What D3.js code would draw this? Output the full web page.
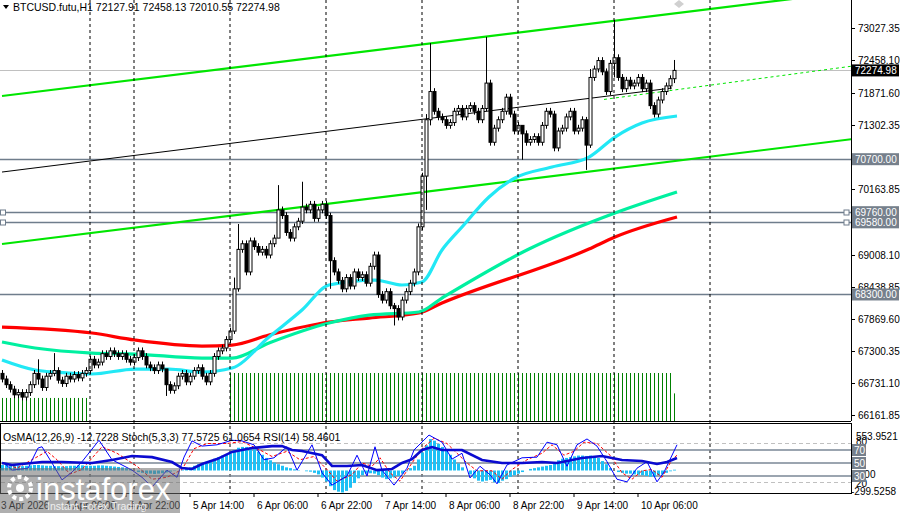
<!DOCTYPE html>
<html>
<head>
<meta charset="utf-8">
<script src="https://cdn.jsdelivr.net/npm/d3@7"></script>
<style>
  body { margin: 0; background: #fff; }
  svg text { font-family: "Liberation Sans", Arial, sans-serif; }
</style>
</head>
<body>
<svg id="chart" width="900" height="513"></svg>
<script>
// hourly closes, one per bar
const closes = [66800,66700,66620,66520,66560,66480,66560,66700,66900,66800,66650,66850,66900,66950,66780,66720,66850,66800,66880,66820,66900,66950,
  67150,67050,67100,67250,67200,67300,67250,67200,67250,67150,67100,
  67180,67300,67200,67050,67000,66950,67050,66980,66700,66600,
  66680,66850,66900,66750,
  66850,66950,67000,66850,66750,66900,67200,67300,67350,67500,
  67650,68400,69100,69200,68700,69250,
  69150,69050,69100,69000,69200,69300,69800,69700,69400,
  69300,69500,69600,69850,69800,
  69900,69650,69800,69900,69700,68900,68700,68550,68400,68600,
  68450,68700,68600,68650,68500,68800,
  69000,68300,68200,68350,68100,68050,
  67900,68200,68350,68500,68700,
  69500,70400,71400,71900,71550,71450,71400,71300,
  71350,71550,71600,71450,71600,71650,71550,
  71400,71600,72050,71000,71250,71400,71550,71800,
  71500,71200,71300,71150,71000,71050,
  71100,71000,71300,71550,71500,70900,71200,
  71250,71450,71550,71200,71250,71400,70950,72150,
  72300,72450,72250,71900,72400,72500,
  72150,71950,72100,72000,72050,72150,71950,72050,
  71650,71500,71750,71900,72000,72128,72275];
const firstOpen = 66900;
// bars with long wicks: [bar, high, low]
const spikes = [[9,67150,66700],[13,67260,66850],[41,66950,66500],[58,68600,67600],[59,69550,68350],
  [69,70240,69300],[75,70300,69550],[82,69750,68400],[98,68150,67750],[106,71500,69800],[107,72760,71300],
  [121,72870,71550],[130,71300,70690],[146,71450,70510],[147,72300,70900],[153,73170,72150],[168,72460,72050]];

// moving averages: [bar, value]
const maFast = [[-0.5,67137],[7.75,66960],[16.25,66906],[22,66889],[32.75,66977],[41.25,66977],[49.5,66924],[57,66995],
  [66.25,67545],[74.5,68024],[81.25,68468],[92.75,68556],[99.5,68468],[104.5,68521],[109.5,69089],[114.5,69497],
  [121.25,70029],[127.75,70366],[137,70561],[146.25,70738],[152.75,71093],[159.5,71342],[168.25,71466]];
const maMid = [[-0.5,67456],[7.75,67350],[22,67261],[32.75,67243],[49.5,67172],[57,67172],[66.25,67439],[81.25,67793],
  [91.25,67935],[103.75,67989],[109.5,68237],[131.25,69106],[152.75,69745],[168.25,70117]];
const maSlow = [[-0.5,67722],[22,67616],[32.75,67492],[49.5,67385],[57,67403],[66.25,67581],[81.25,67811],
  [91.25,67882],[103.75,67971],[109.5,68148],[146.25,69106],[152.75,69319],[168.25,69674]];

// trend channel lines: [bar, price]
const channelTop = [[-0.5,71821],[212.25,73675]];
const channelBottom = [[-0.5,69195],[212.25,71058]];
const midLine = [[-0.5,70472],[167,71963]];
const midLineExt = [[150,71760],[212.25,72353]];

const levels = [70700, 69760, 69580, 68300];
const lastPrice = 72274.98;
const priceTicks = [73027.35,72458.10,71871.60,71302.35,70163.85,69008.10,68438.85,67869.60,67300.35,66731.10,66161.85];

// green signal bars at the bottom of the main pane
const signalBars = [{from:0,to:21,val:0.96},{from:57,to:167,val:2},{from:168,to:168,val:1.15}];

// time axis
const timeLabels = ["3 Apr 2026","4 Apr 06:00","4 Apr 22:00","5 Apr 14:00","6 Apr 06:00","6 Apr 22:00","7 Apr 14:00","8 Apr 06:00","8 Apr 22:00","9 Apr 14:00","10 Apr 06:00"];
const timeLabelBars = [-1,15,31,47,63,79,95,111,127,143,159];
const daySeparators = [22,33,57,81,105,129,153,177];

// indicators
const osma = [70,70,65,60,60,55,60,65,70,70,65,60,60,55,55,50,55,60,60,65,65,60,
  60,60,65,65,60,55,50,45,40,30,20,
  0,-20,-30,-40,-40,-45,-40,-35,-25,-15,
  -5,0,10,20,
  40,60,80,90,110,130,150,170,190,200,
  220,260,290,300,300,295,
  270,240,200,160,130,100,80,60,40,
  30,15,5,0,-10,
  -15,-30,-50,-90,-140,-200,-250,-270,-280,-260,
  -220,-160,-100,-60,-40,-35,
  -40,-60,-90,-110,-100,-90,
  -70,-40,-10,30,60,
  140,230,320,400,380,340,300,260,
  200,140,90,40,0,-50,-100,
  -130,-140,-130,-120,-150,-160,-130,-110,
  -80,-60,-40,-20,0,20,
  30,40,50,60,70,100,130,
  150,160,170,180,190,190,185,190,
  180,160,120,80,30,0,
  -20,-30,-40,-40,-50,-55,-60,-70,
  -80,-80,-60,-50,-30,-10,10];
// [bar, value]
const rsi = [[-0.5,50],[2,47],[9.5,51.5],[14.5,51.5],[22,50],[27,54.6],[32,60.8],[37,59],[42,51.5],[44.5,42.3],[47,40.8],
  [49.5,48.5],[53.25,56],[57,67],[62,73],[67,76],[69.5,76],[72,70],[74.5,68.5],[79.5,62],[82,45.4],[85.75,45.4],
  [89.5,47],[93.25,39],[97,40.8],[99.5,50],[102,56],[104.5,70],[107,74.6],[109.5,70],[114.5,70],[119.5,54.6],
  [124.5,50],[129.5,50],[134.5,51.5],[138.25,50],[144.5,57.7],[149.5,60.8],[154.5,54.6],[159.5,53],[163.25,48.5],
  [165.75,51.5],[168.25,57.7]];
const stochMain = [[0,50],[2,39],[6,42],[8.5,73],[9.5,75],[12,50],[14.5,24],[17,36],[19.5,52],[23.75,85],[27,55],
  [32,39],[34.5,28],[37,13],[40.75,39],[43.25,28],[45,59],[47,84],[49.5,76],[53.25,78],[57,85],[59.5,84],[62.5,78],
  [65,55],[67.5,58],[70.75,75],[73.25,39],[77,78],[79.5,35],[82,16],[85.75,30],[88.25,62],[90.75,30],[92.75,75],
  [94.5,39],[97.5,16],[100.75,42],[102.5,70],[106.25,93],[109.5,82],[112,56],[114.5,65],[116.5,27],[119,45],
  [121.5,32],[123.25,18],[125.75,47],[129.5,58],[133.25,59],[135.75,82],[138.25,78],[140.75,45],[143.25,78],
  [145.75,87],[148.25,76],[150.75,52],[153.25,25],[155.75,21],[158.25,42],[160.75,52],[163.25,21],[165,36],[168.25,78]];
const stochSignal = [[0,50],[3.25,42],[7,55],[10.75,68],[13.25,55],[16.5,33],[19.5,40],[24.5,75],[28.25,65],[33.25,45],
  [37,25],[40.75,28],[44.5,40],[47.5,72],[50.75,80],[55.75,80],[59.5,83],[64,70],[67,60],[70.75,68],[74,55],[77.5,60],
  [80.75,40],[83.25,22],[87,32],[89.5,50],[92,45],[94,58],[96.5,35],[99,22],[102,50],[104.5,72],[107.5,88],[110.75,80],
  [113.25,65],[115.75,50],[118.25,38],[122,38],[124.5,25],[127,40],[130.75,55],[134.5,65],[137,78],[140,62],[142.5,68],
  [145,82],[148.25,80],[151.5,62],[154.5,35],[157,25],[159.5,38],[162,40],[164.5,28],[167,55],[168.25,62]];

const svg = d3.select("#chart");
const W = 851;

const x = d3.scaleLinear().domain([0, 1]).range([4, 8]); // one bar = 4px
const y = d3.scaleLinear().domain([66161.85, 73027.35]).range([415, 28]);
const yInd = d3.scaleLinear().domain([0, 100]).range([495.5, 430.5]);   // RSI / Stoch
const yOsma = d3.scaleLinear().domain([-299.5258, 553.9521]).range([494, 427]);
const ySig = d3.scaleLinear().domain([0, 2]).range([421, 373]);

const main = svg.append("g");
main.append("defs").append("clipPath").attr("id", "mainClip")
  .append("rect").attr("x", 0).attr("y", 0).attr("width", W).attr("height", 421);
const plot = main.append("g").attr("clip-path", "url(#mainClip)");

// day separators
daySeparators.forEach(b => {
  svg.append("line").attr("x1", x(b) - 2).attr("x2", x(b) - 2).attr("y1", 0).attr("y2", 493)
    .attr("stroke", "#000").attr("stroke-dasharray", "3,3").attr("stroke-width", 1);
});

// horizontal levels
levels.forEach(v => {
  plot.append("line").attr("x1", 0).attr("x2", W).attr("y1", Math.round(y(v)) + 0.5).attr("y2", Math.round(y(v)) + 0.5)
    .attr("stroke", "#6f7d8c").attr("stroke-width", 1.3);
});
[69760, 69580].forEach(v => {
  plot.append("rect").attr("x", 0.5).attr("y", Math.round(y(v)) - 2).attr("width", 5).attr("height", 5)
    .attr("fill", "#fff").attr("stroke", "#6f7d8c");
  plot.append("rect").attr("x", W - 7).attr("y", Math.round(y(v)) - 2).attr("width", 5).attr("height", 5)
    .attr("fill", "#fff").attr("stroke", "#6f7d8c");
});
plot.append("line").attr("x1", 0).attr("x2", W).attr("y1", Math.round(y(lastPrice)) + 0.5).attr("y2", Math.round(y(lastPrice)) + 0.5)
  .attr("stroke", "#c0c0c0");

// signal bars
signalBars.forEach(s => {
  d3.range(s.from, s.to + 1).forEach(i => {
    plot.append("line").attr("x1", x(i) - 1.5).attr("x2", x(i) - 1.5).attr("y1", ySig(s.val)).attr("y2", 421)
      .attr("stroke", "#008000").attr("stroke-width", 1);
  });
});

const line = d3.line().x(d => x(d[0])).y(d => y(d[1]));
const smooth = d3.line().x(d => x(d[0])).y(d => y(d[1])).curve(d3.curveMonotoneX);

// channels
[channelTop, channelBottom].forEach(c => {
  plot.append("path").attr("d", line(c)).attr("fill", "none").attr("stroke", "#00e600").attr("stroke-width", 2.2);
});
plot.append("path").attr("d", line(midLine)).attr("fill", "none").attr("stroke", "#000").attr("stroke-width", 1);
plot.append("path").attr("d", line(midLineExt)).attr("fill", "none").attr("stroke", "#00e600")
  .attr("stroke-width", 1).attr("stroke-dasharray", "3,3");

// moving averages
[[maSlow, "#ff0000"], [maMid, "#00f0a0"], [maFast, "#22e8f5"]].forEach(([d, c]) => {
  plot.append("path").attr("d", smooth(d)).attr("fill", "none").attr("stroke", c).attr("stroke-width", 3.2);
});

// candles
const spikeMap = new Map(spikes.map(s => [s[0], s]));
const candles = closes.map((c, i) => {
  const o = i === 0 ? firstOpen : closes[i - 1];
  const s = spikeMap.get(i);
  return { i, o, c, h: s ? s[1] : Math.max(o, c) + 60, l: s ? s[2] : Math.min(o, c) - 60 };
});
const cg = plot.append("g");
candles.forEach(d => {
  const cx = Math.round(x(d.i)) - 1.5;
  cg.append("line").attr("x1", cx).attr("x2", cx).attr("y1", y(d.h)).attr("y2", y(d.l)).attr("stroke", "#000");
  const top = y(Math.max(d.o, d.c)), bot = y(Math.min(d.o, d.c));
  cg.append("rect").attr("x", cx - 1.5).attr("y", top).attr("width", 3).attr("height", Math.max(1, bot - top))
    .attr("fill", d.c >= d.o ? "#fff" : "#000").attr("stroke", "#000").attr("stroke-width", 1);
});

// frames
svg.append("line").attr("x1", W + 0.5).attr("x2", W + 0.5).attr("y1", 0).attr("y2", 421).attr("stroke", "#000");
svg.append("line").attr("x1", 0).attr("x2", W).attr("y1", 421.5).attr("y2", 421.5).attr("stroke", "#000");
svg.append("rect").attr("x", 0.5).attr("y", 423.5).attr("width", W).attr("height", 70).attr("fill", "none").attr("stroke", "#000");

// price axis
priceTicks.forEach(v => {
  const py = Math.round(y(v)) + 0.5;
  svg.append("line").attr("x1", W).attr("x2", W + 4).attr("y1", py).attr("y2", py).attr("stroke", "#000");
  svg.append("text").attr("x", 858).attr("y", py + 3.5).attr("font-size", 10).text(v.toFixed(2));
});
levels.forEach(v => {
  const py = y(v);
  svg.append("rect").attr("x", 852).attr("y", py - 6).attr("width", 47).attr("height", 12).attr("fill", "#76808c");
  svg.append("text").attr("x", 855).attr("y", py + 4).attr("font-size", 10).attr("fill", "#fff").text(v.toFixed(2));
});
svg.append("rect").attr("x", 852).attr("y", y(lastPrice) - 6).attr("width", 47).attr("height", 12).attr("fill", "#000");
svg.append("text").attr("x", 855).attr("y", y(lastPrice) + 4).attr("font-size", 10).attr("fill", "#fff").text(lastPrice.toFixed(2));

// indicator pane
const ind = svg.append("g");
[80, 20].forEach(v => ind.append("line").attr("x1", 1).attr("x2", W).attr("y1", yInd(v)).attr("y2", yInd(v))
  .attr("stroke", "#c0c0c0").attr("stroke-dasharray", "4,3"));
[70, 50, 30].forEach(v => ind.append("line").attr("x1", 1).attr("x2", W).attr("y1", yInd(v)).attr("y2", yInd(v))
  .attr("stroke", "#7a8796").attr("stroke-width", 1.3));
osma.forEach((v, i) => {
  const y0 = yOsma(0), y1 = yOsma(v);
  ind.append("rect").attr("x", x(i) - 3).attr("y", Math.min(y0, y1)).attr("width", 3).attr("height", Math.abs(y1 - y0))
    .attr("fill", "#1ec0f5");
});
const iline = d3.line().x(d => x(d[0])).y(d => yInd(d[1]));
ind.append("path").attr("d", iline(stochSignal)).attr("fill", "none").attr("stroke", "#ff0000").attr("stroke-dasharray", "3,2");
ind.append("path").attr("d", iline(stochMain)).attr("fill", "none").attr("stroke", "#0000ff").attr("stroke-width", 1);
ind.append("path").attr("d", iline(rsi)).attr("fill", "none").attr("stroke", "#0a0ad0").attr("stroke-width", 2.6);

ind.append("text").attr("x", 3).attr("y", 441).attr("font-size", 10.5)
  .text("OsMA(12,26,9) -12.7228  Stoch(5,3,3) 77.5725 61.0654  RSI(14) 58.4601");

svg.append("text").attr("x", 856).attr("y", 440).attr("font-size", 10).text("553.9521");
svg.append("text").attr("x", 856).attr("y", 445).attr("font-size", 10).text("80");
svg.append("text").attr("x", 856).attr("y", 478).attr("font-size", 10).text("0.00");
svg.append("text").attr("x", 856).attr("y", 487).attr("font-size", 10).text("20");
svg.append("text").attr("x", 851).attr("y", 495).attr("font-size", 10).text("-299.5258");
[70, 50, 30].forEach(v => {
  svg.append("rect").attr("x", 852).attr("y", yInd(v) - 6).attr("width", 14).attr("height", 12).attr("fill", "#76808c");
  svg.append("text").attr("x", 854).attr("y", yInd(v) + 4).attr("font-size", 10).attr("fill", "#fff").text(v);
});

// time axis
timeLabels.forEach((t, k) => {
  const tx = x(timeLabelBars[k]) - 2;
  svg.append("line").attr("x1", tx).attr("x2", tx).attr("y1", 493).attr("y2", 497).attr("stroke", "#000");
  svg.append("text").attr("x", tx + 3).attr("y", 509).attr("font-size", 10).text(t);
});

// header
svg.append("path").attr("d", "M3,5 L9,5 L6,9 Z").attr("fill", "#000");
svg.append("text").attr("x", 13).attr("y", 11).attr("font-size", 10.5)
  .text("BTCUSD.futu,H1  72127.91 72458.13 72010.55 72274.98");
svg.append("path").attr("d", "M679,0 L684,4 L679,8 L674,4 Z").attr("fill", "#d0d0d0");

// watermark
const wm = svg.append("g");
wm.append("rect").attr("x", 0).attr("y", 468).attr("width", 180).attr("height", 45).attr("fill", "rgba(110,110,110,0.55)");
wm.append("circle").attr("cx", 20).attr("cy", 488).attr("r", 11).attr("fill", "none").attr("stroke", "#fff").attr("stroke-width", 4).attr("stroke-dasharray", "4,3");
wm.append("circle").attr("cx", 20).attr("cy", 488).attr("r", 4).attr("fill", "#fff");
wm.append("text").attr("x", 36).attr("y", 500).attr("font-size", 31).attr("fill", "#fff").text("instaforex");
wm.append("text").attr("x", 47).attr("y", 510).attr("font-size", 10.5).attr("fill", "#f0f0f0").text("Instant Forex Trading");
</script>
</body>
</html>
